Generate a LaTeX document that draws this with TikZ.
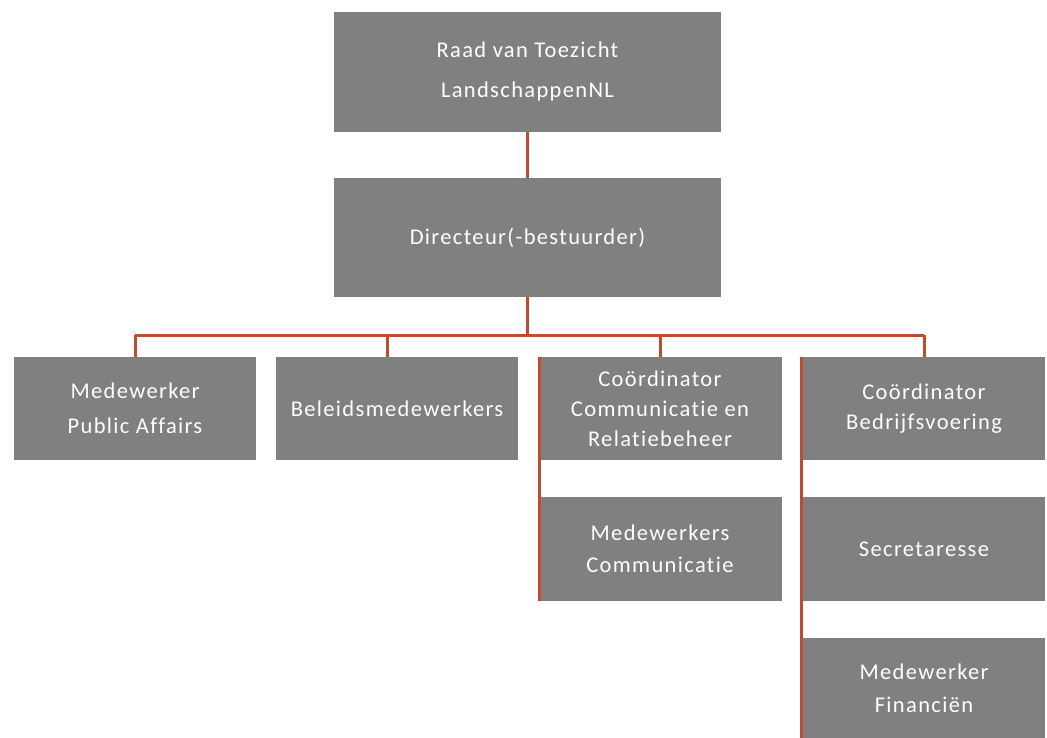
\documentclass[tikz,border=0pt]{standalone}
\usepackage{fontspec}
\setmainfont{Carlito}[LetterSpace=6,Ligatures={NoCommon}]
\usetikzlibrary{calc}
\definecolor{boxgray}{RGB}{128,128,128}
\definecolor{linered}{RGB}{190,76,46}
\begin{document}
\begin{tikzpicture}[x=1pt,y=-1pt,
  box/.style={fill=boxgray, draw=none, text=white, align=center, inner sep=0pt,
    minimum width=242pt, minimum height=103pt, font=\fontsize{22.5}{31}\selectfont},
  conn/.style={draw=linered, line width=3pt}]
\useasboundingbox (0,0) rectangle (1047,738);
% nodes
\node[box, minimum width=387pt, minimum height=120pt, font=\fontsize{22.5}{40}\selectfont] (rvt) at (527.5,72) {Raad van Toezicht\\LandschappenNL};
\node[box, minimum width=387pt, minimum height=119pt] (dir) at (527.5,237.5) {Directeur(-bestuurder)};
\node[box, font=\fontsize{22.5}{35}\selectfont] (mpa) at (135,408.5) {Medewerker\\Public Affairs};
\node[box] (bel) at (397,408.5) {Beleidsmedewerkers};
\node[box, minimum width=244pt, font=\fontsize{22.5}{30}\selectfont] (ccr) at (660,408.5) {Coördinator\\Communicatie en\\Relatiebeheer};
\node[box, font=\fontsize{22.5}{30}\selectfont] (cbv) at (924,408.5) {Coördinator\\Bedrijfsvoering};
\node[box, minimum width=244pt, minimum height=104pt, font=\fontsize{22.5}{32}\selectfont] (mco) at (660,549) {Medewerkers\\Communicatie};
\node[box, minimum height=104pt] (sec) at (924,549) {Secretaresse};
\node[box, minimum height=101pt, font=\fontsize{22.5}{33}\selectfont] (mfi) at (924,688) {Medewerker\\Financiën};
% connectors
\coordinate (hy) at (0,335);
\draw[conn] (rvt.south) -- (dir.north);
\draw[conn] (dir.south) -- (dir.south |- hy);
\draw[conn] (mpa.north |- hy) -- (cbv.north |- hy);
\draw[conn] (mpa.north |- hy) -- (mpa.north);
\draw[conn] ($(bel.north |- hy)+(-10,0)$) -- ($(bel.north)+(-10,0)$);
\draw[conn] (ccr.north |- hy) -- (ccr.north);
\draw[conn] (cbv.north |- hy) -- (cbv.north);
% side rails
\draw[conn] ($(ccr.north west)+(1.5,0)$) -- ($(mco.south west)+(1.5,0)$);
\draw[conn] ($(cbv.north west)+(-1.5,0)$) -- ($(mfi.south west)+(-1.5,0)$);
\end{tikzpicture}
\end{document}
